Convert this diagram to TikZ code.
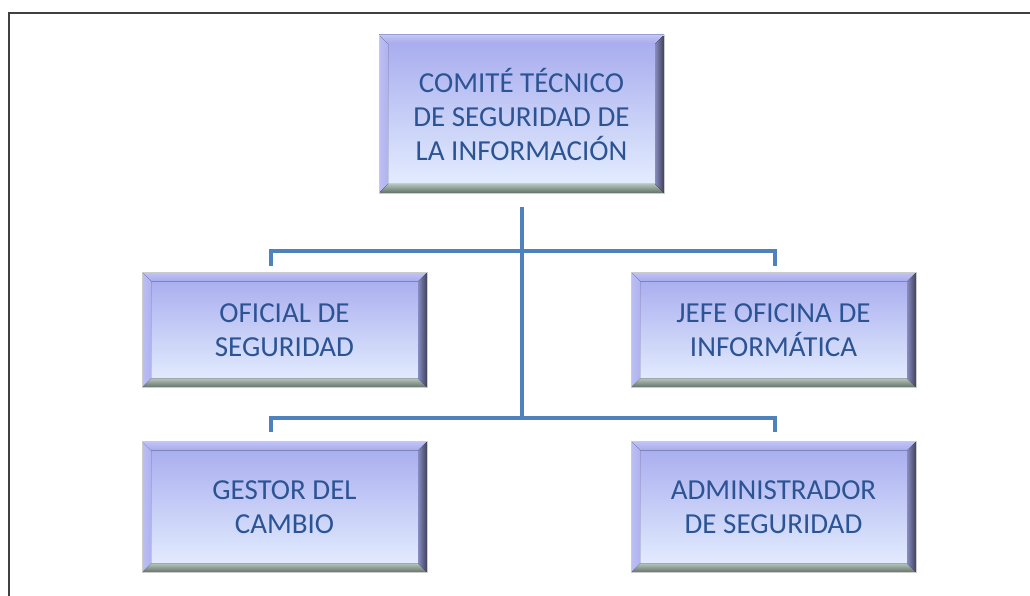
\documentclass[tikz,border=0pt]{standalone}
\usepackage{fontspec}
\setmainfont{Carlito}
\usetikzlibrary{calc}
\definecolor{textoazul}{RGB}{44,84,148}
\definecolor{lineaazul}{RGB}{79,129,189}
\definecolor{caraalta}{RGB}{166,170,238}
\definecolor{carabaja}{RGB}{230,240,255}
\definecolor{biselclaro}{RGB}{178,196,186}
\definecolor{biseloscuro}{RGB}{98,112,104}
\definecolor{biselderecho}{RGB}{62,66,88}
\tikzset{
  caja/.style={rectangle, minimum width=285pt, align=center, text=textoazul,
    font=\fontsize{29}{34}\selectfont, top color=caraalta, bottom color=carabaja,
    draw=black!20, line width=0.6pt,
    path picture={
      \coordinate (nw) at (path picture bounding box.north west);
      \coordinate (ne) at (path picture bounding box.north east);
      \coordinate (sw) at (path picture bounding box.south west);
      \coordinate (se) at (path picture bounding box.south east);
      % bevel edges
      \fill[top color=caraalta!70!white, bottom color=caraalta]
        (nw) -- (ne) -- ($(ne)+(-9pt,-9pt)$) -- ($(nw)+(9pt,-9pt)$) -- cycle;
      \fill[left color=caraalta!75!white, right color=caraalta!90!white]
        (nw) -- ($(nw)+(9pt,-9pt)$) -- ($(sw)+(9pt,9pt)$) -- (sw) -- cycle;
      \fill[top color=biselclaro, bottom color=biseloscuro]
        (sw) -- ($(sw)+(9pt,9pt)$) -- ($(se)+(-9pt,9pt)$) -- (se) -- cycle;
      \fill[left color=caraalta!70!biselderecho, right color=biselderecho]
        (ne) -- (se) -- ($(se)+(-9pt,9pt)$) -- ($(ne)+(-9pt,-9pt)$) -- cycle;
    }},
  conector/.style={draw=lineaazul, line width=3.5pt}
}

\begin{document}
\begin{tikzpicture}[x=1pt, y=-1pt]
  \useasboundingbox (0,0) rectangle (1030,596);
  \draw[black!75, line width=2.5pt] (9,596) -- (9,13) -- (1030,13);

  \node[caja, minimum height=158pt] (comite) at (521.5,114) {COMITÉ TÉCNICO\\DE SEGURIDAD DE\\LA INFORMACIÓN};
  \node[caja, minimum height=115pt] (oficial) at (284.5,330) {OFICIAL DE\\SEGURIDAD};
  \node[caja, minimum height=115pt] (jefe) at (773.5,330) {JEFE OFICINA DE\\INFORMÁTICA};
  \node[caja, minimum height=131pt] (gestor) at (284.5,507) {GESTOR DEL\\CAMBIO};
  \node[caja, minimum height=131pt] (admin) at (773.5,507) {ADMINISTRADOR\\DE SEGURIDAD};

  \coordinate (troncoA) at (522,207);
  \coordinate (troncoB) at (522,418);
  \coordinate (barra1) at (522,251);
  \coordinate (ramaI1) at (271,266);
  \coordinate (ramaD1) at (775,266);
  \coordinate (ramaI2) at (271,432);
  \coordinate (ramaD2) at (775,432);

  \draw[conector, line width=4.5pt] (troncoA) -- (troncoB);
  \draw[conector] (ramaI1) |- (barra1) -| (ramaD1);
  \draw[conector] (ramaI2) |- (troncoB) -| (ramaD2);
\end{tikzpicture}
\end{document}
